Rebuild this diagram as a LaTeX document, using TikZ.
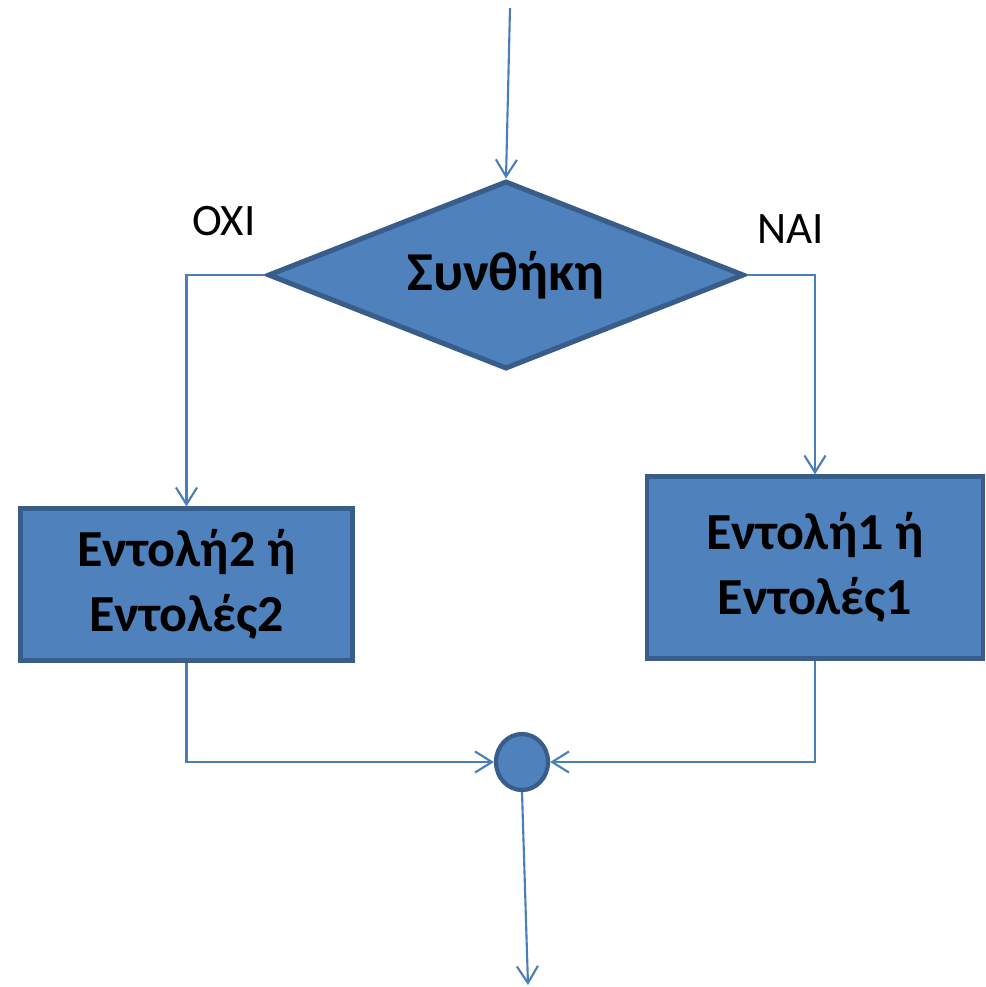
\documentclass[tikz,border=0pt]{standalone}
\usepackage{fontspec}
\setmainfont{Carlito}
\usetikzlibrary{arrows.meta,shapes.geometric}
\definecolor{boxfill}{RGB}{79,129,189}
\definecolor{boxedge}{RGB}{56,93,138}
\definecolor{linkblue}{RGB}{74,126,187}
\begin{document}
\begin{tikzpicture}[
        x=0.025cm, y=-0.025cm,
        decision/.style={diamond, draw=boxedge, fill=boxfill, line width=3.6pt, aspect=2.5, inner sep=0pt,
            minimum width=11.9cm, minimum height=4.7cm, font=\fontsize{39}{47}\selectfont\bfseries},
        box/.style={draw=boxedge, fill=boxfill, line width=3pt, align=center,
            font=\fontsize{37}{46}\selectfont\bfseries},
        joint/.style={ellipse, draw=boxedge, fill=boxfill, line width=3pt, inner sep=0pt,
            minimum width=1.3cm, minimum height=1.4cm},
        arrow/.style={-{Straight Barb[length=12pt,width=15pt]}, linkblue, line width=1.5pt},
        link/.style={linkblue, line width=1.5pt}
    ]
        \useasboundingbox (0,0) rectangle (986,987);

        % Συνθήκη
        \node[decision] (cond) at (506,275) {Συνθήκη};

        % Εντολές
        \node[box, minimum width=8.3cm, minimum height=3.8cm] (else) at (186.5,584.5) {Εντολή2 ή\\Εντολές2};
        \node[box, minimum width=8.4cm, minimum height=4.55cm] (then) at (815,567.5) {Εντολή1 ή\\Εντολές1};

        % σημείο ένωσης
        \node[joint] (join) at (522,762) {};

        \coordinate (in) at (510,8);
        \coordinate (out) at (528,985);

        % βέλη
        \draw[arrow] (in) -- (cond.north);
        \draw[arrow] (cond.west) -| (else.north);
        \draw[arrow] (cond.east) -| (then.north);
        \draw[arrow] (else.south) |- (join.west);
        \draw[arrow] (then.south) |- (join.east);
        \draw[arrow] (join.south) -- (out);

        % ετικέτες
        \node[font=\fontsize{32}{38}\selectfont] (no) at (224,221) {ΟΧΙ};
        \node[font=\fontsize{32}{38}\selectfont] (yes) at (791,229) {ΝΑΙ};
    \end{tikzpicture}
\end{document}
